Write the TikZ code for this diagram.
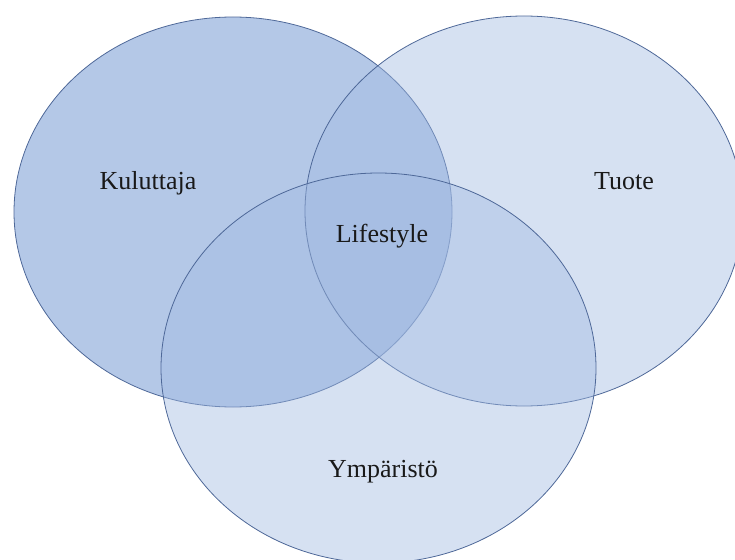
\documentclass[tikz,border=0pt]{standalone}
\usepackage{fontspec}
\setmainfont{Liberation Serif}
\definecolor{edgeblue}{RGB}{78,104,152}
\definecolor{fillblue}{RGB}{160,185,225}
\tikzset{
  venn/.style={draw=edgeblue, line width=0.8pt, fill=fillblue},
  lbl/.style={anchor=base, font=\fontsize{26}{30}\selectfont, text=black!90},
}
\begin{document}
\begin{tikzpicture}[x=1pt,y=-1pt]
\useasboundingbox (0,0) rectangle (735,559);
\begin{scope}
\clip (0,0) rectangle (735,559);
\path[venn, fill opacity=0.79] (233,212) ellipse [x radius=219, y radius=195];
\path[venn, fill opacity=0.43] (524,211) ellipse [x radius=219, y radius=195];
\path[venn, fill opacity=0.43] (378.5,368) ellipse [x radius=217.5, y radius=195];
\end{scope}
\node[lbl] (kul) at (148,189) {Kuluttaja};
\node[lbl] (tuo) at (624,189) {Tuote};
\node[lbl] (life) at (382,242) {Lifestyle};
\node[lbl] (ymp) at (383,477) {Ympäristö};
\end{tikzpicture}
\end{document}
